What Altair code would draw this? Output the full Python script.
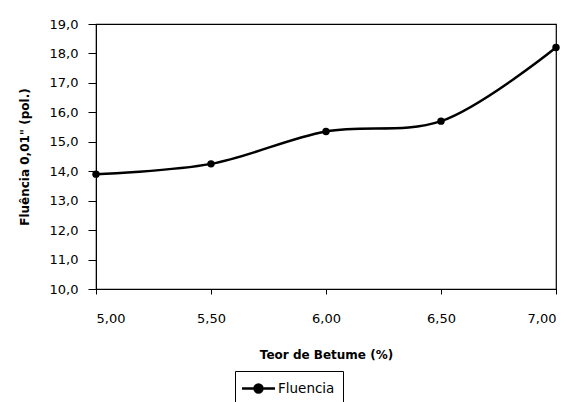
import altair as alt
import pandas as pd

teor = [5.00, 5.50, 6.00, 6.50, 7.00]
fluencia = [13.9, 14.25, 15.35, 15.7, 18.2]
series = ["Fluencia"] * len(teor)

df = pd.DataFrame({"teor": teor, "fluencia": fluencia, "serie": series})

FONT = "DejaVu Sans"

x = alt.X(
    "teor:Q",
    scale=alt.Scale(domain=[5.0, 7.0], nice=False, zero=False),
    axis=alt.Axis(
        title="Teor de Betume (%)",
        values=[5.0, 5.5, 6.0, 6.5, 7.0],
        labelExpr="replace(format(datum.value, '.2f'), '.', ',')",
        grid=False,
        tickSize=5,
        labelPadding=18,
        titlePadding=24,
    ),
)
y = alt.Y(
    "fluencia:Q",
    scale=alt.Scale(domain=[10.0, 19.0], nice=False, zero=False),
    axis=alt.Axis(
        title="Fluência 0,01\" (pol.)",
        values=[10, 11, 12, 13, 14, 15, 16, 17, 18, 19],
        labelExpr="replace(format(datum.value, '.1f'), '.', ',')",
        grid=False,
        tickSize=8,
        labelPadding=10,
        titlePadding=18,
    ),
)
color = alt.Color(
    "serie:N",
    scale=alt.Scale(range=["black"]),
    legend=alt.Legend(
        title=None,
        orient="none",
        legendX=139,
        legendY=347,
        strokeColor="black",
        padding=8,
        symbolOffset=6,
        symbolType="M-2,0H2M0.48,0A0.48,0.48,0,1,1,-0.48,0A0.48,0.48,0,1,1,0.48,0",
        symbolSize=272,
        symbolStrokeWidth=2.5,
        symbolFillColor="black",
        symbolStrokeColor="black",
        labelFontSize=13.5,
        labelFont=FONT,
        labelColor="black",
        labelOffset=10,
        labelExpr="datum.label + '\u00a0\u00a0\u00a0\u00a0'",
    ),
)

line = alt.Chart(df).mark_line(
    interpolate="catmull-rom", strokeWidth=2.5
).encode(x=x, y=y, color=color)
pts = alt.Chart(df).mark_point(
    filled=True, size=55, opacity=1
).encode(x=x, y=y, color=alt.Color("serie:N", scale=alt.Scale(range=["black"]), legend=None))

chart = (
    alt.layer(line, pts)
    .properties(
        width=460,
        height=265,
        autosize=alt.AutoSizeParams(type="none"),
        padding={"left": 96, "top": 24, "right": 25, "bottom": 113},
        background="white",
    )
    .configure_view(stroke="black", strokeWidth=1.2)
    .configure_axis(
        domainColor="black",
        tickColor="black",
        labelColor="black",
        titleColor="black",
        labelFont=FONT,
        titleFont=FONT,
        labelFontSize=13,
        titleFontSize=12,
        titleFontWeight="bold",
    )
)

chart.save("out.html", embed_options={"renderer": "svg", "actions": False})
